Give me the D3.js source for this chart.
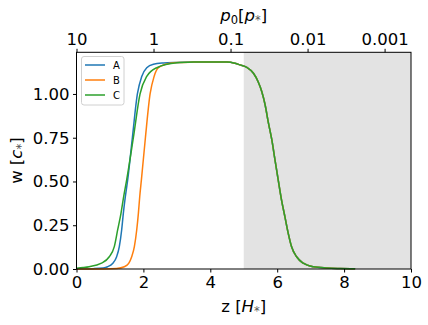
<!DOCTYPE html>
<html>
<head>
<meta charset="utf-8">
<script src="https://cdn.jsdelivr.net/npm/d3@7"></script>
<style>
body { margin: 0; background: #fff; }
text { font-family: "DejaVu Sans", sans-serif; fill: #000; }
</style>
</head>
<body>
<div id="chart"></div>
<script>
// rise of each run
var zA = [0, 0.5, 0.8, 0.93, 1.08, 1.2, 1.28, 1.35, 1.40, 1.46, 1.53, 1.67, 1.82, 1.95, 2.1, 2.3, 2.6, 3.0, 3.5, 4.0, 4.3];
var wA = [0, 0.002, 0.006, 0.013, 0.032, 0.07, 0.128, 0.223, 0.318, 0.413, 0.509, 0.75, 1.0, 1.1, 1.15, 1.17, 1.177, 1.18, 1.182, 1.183, 1.183];
var zB = [0, 0.8, 1.2, 1.43, 1.56, 1.65, 1.73, 1.80, 1.85, 1.89, 1.94, 2.06, 2.2, 2.32, 2.45, 2.8, 3.0, 3.5, 4.0, 4.3];
var wB = [0, 0.0005, 0.003, 0.013, 0.032, 0.07, 0.128, 0.223, 0.318, 0.413, 0.509, 0.75, 1.0, 1.1, 1.15, 1.175, 1.18, 1.182, 1.183, 1.183];
var zC = [0, 0.2, 0.38, 0.73, 0.98, 1.13, 1.23, 1.33, 1.41, 1.50, 1.70, 1.90, 2.1, 2.4, 3.0, 3.5, 4.0, 4.3];
var wC = [0.004, 0.008, 0.013, 0.032, 0.07, 0.128, 0.223, 0.318, 0.413, 0.509, 0.75, 1.0, 1.1, 1.15, 1.178, 1.182, 1.183, 1.183];
// the fall is the same for all three
var zFall = [4.5, 4.7, 4.89, 5.09, 5.29, 5.43, 5.54, 5.64, 5.73, 5.84, 5.93, 6.03, 6.13, 6.23, 6.33, 6.43, 6.58, 6.78, 7.08, 7.48, 7.88, 8.33];
var wFall = [1.182, 1.177, 1.166, 1.152, 1.118, 1.07, 1.013, 0.937, 0.842, 0.737, 0.628, 0.509, 0.394, 0.299, 0.204, 0.127, 0.07, 0.033, 0.013, 0.006, 0.003, 0.001];

var names = ["A", "B", "C"];
var colors = ["#1f77b4", "#ff7f0e", "#2ca02c"];
var xTicks = [0, 2, 4, 6, 8, 10];
var yTicks = [0, 0.25, 0.5, 0.75, 1.0];
var pTicks = [10, 1, 0.1, 0.01, 0.001];
var shade = [5, 10];

var width = 428, height = 325;
var plotLeft = 76.5, plotRight = 411, plotTop = 52.3, plotBottom = 269;

var svg = d3.select("#chart").append("svg")
    .attr("width", width)
    .attr("height", height);

var x = d3.scaleLinear().domain([0, 10]).range([plotLeft, plotRight]);
var y = d3.scaleLinear().domain([0, 1.238]).range([plotBottom, plotTop]);
// top axis: p0 = 10 * exp(-z)
var zOfP = function(p) { return Math.log(10 / p); };

// grey band
svg.append("rect")
    .attr("x", x(shade[0]))
    .attr("y", plotTop)
    .attr("width", x(shade[1]) - x(shade[0]))
    .attr("height", plotBottom - plotTop)
    .attr("fill", "#e3e3e3");

function series(zs, ws) {
    var pts = zs.map(function(z, i) { return [z, ws[i]]; });
    return pts.concat(zFall.map(function(z, i) { return [z, wFall[i]]; }));
}
var data = [series(zA, wA), series(zB, wB), series(zC, wC)];

var line = d3.line()
    .x(function(d) { return x(d[0]); })
    .y(function(d) { return y(d[1]); })
    .curve(d3.curveMonotoneX);

svg.selectAll("path.series").data(data).enter()
    .append("path")
    .attr("class", "series")
    .attr("d", line)
    .attr("fill", "none")
    .attr("stroke", function(d, i) { return colors[i]; })
    .attr("stroke-width", 1.5);

// frame
svg.append("rect")
    .attr("x", plotLeft).attr("y", plotTop)
    .attr("width", plotRight - plotLeft).attr("height", plotBottom - plotTop)
    .attr("fill", "none").attr("stroke", "#000").attr("stroke-width", 1);

// axes
var xAxis = d3.axisBottom(x).tickValues(xTicks).tickFormat(d3.format("d")).tickSizeOuter(0).tickSize(3.5).tickPadding(3.5);
var yAxis = d3.axisLeft(y).tickValues(yTicks).tickFormat(d3.format(".2f")).tickSizeOuter(0).tickSize(3.5).tickPadding(3.5);
var topAxis = d3.axisTop(x).tickValues(pTicks.map(zOfP)).tickFormat(function(d, i) { return String(pTicks[i]); })
    .tickSizeOuter(0).tickSize(3.5).tickPadding(3.5);

var gx = svg.append("g").attr("transform", "translate(0," + plotBottom + ")").call(xAxis);
var gy = svg.append("g").attr("transform", "translate(" + plotLeft + ",0)").call(yAxis);
var gt = svg.append("g").attr("transform", "translate(0," + plotTop + ")").call(topAxis);
[gx, gy, gt].forEach(function(g) {
    g.select(".domain").remove();
    g.selectAll("line").attr("stroke", "#000");
    g.selectAll("text").attr("font-size", 16.5).attr("font-family", "DejaVu Sans").attr("fill", "#000");
});

// axis labels
var xl = svg.append("text")
    .attr("x", (plotLeft + plotRight) / 2).attr("y", 312)
    .attr("text-anchor", "middle").attr("font-size", 16.5);
xl.append("tspan").text("z [");
xl.append("tspan").attr("font-style", "italic").text("H");
xl.append("tspan").attr("font-size", 11.5).attr("dy", 3).attr("fill", "#555").text("*");
xl.append("tspan").attr("dy", -3).text("]");

var yl = svg.append("text")
    .attr("transform", "translate(22," + (plotTop + plotBottom) / 2 + ") rotate(-90)")
    .attr("text-anchor", "middle").attr("font-size", 16.5);
yl.append("tspan").text("w [");
yl.append("tspan").attr("font-style", "italic").text("c");
yl.append("tspan").attr("font-size", 11.5).attr("dy", 3).attr("fill", "#555").text("*");
yl.append("tspan").attr("dy", -3).text("]");

var tl = svg.append("text")
    .attr("x", (plotLeft + plotRight) / 2).attr("y", 21)
    .attr("text-anchor", "middle").attr("font-size", 16.5);
tl.append("tspan").attr("font-style", "italic").text("p");
tl.append("tspan").attr("font-size", 11.5).attr("dy", 3).text("0");
tl.append("tspan").attr("dy", -3).text("[");
tl.append("tspan").attr("font-style", "italic").text("p");
tl.append("tspan").attr("font-size", 11.5).attr("dy", 3).attr("fill", "#555").text("*");
tl.append("tspan").attr("dy", -3).text("]");

// legend
var lg = svg.append("g");
lg.append("rect")
    .attr("x", 81.5).attr("y", 56.5).attr("width", 42.5).attr("height", 48.5)
    .attr("rx", 2.5).attr("fill", "#fff").attr("fill-opacity", 0.8)
    .attr("stroke", "#d0d0d0");
names.forEach(function(n, i) {
    var yy = 65 + i * 15;
    lg.append("line").attr("x1", 85).attr("x2", 105).attr("y1", yy).attr("y2", yy)
        .attr("stroke", colors[i]).attr("stroke-width", 1.5);
    lg.append("text").attr("x", 113).attr("y", yy + 3.6).attr("font-size", 10).text(n);
});
</script>
</body>
</html>
